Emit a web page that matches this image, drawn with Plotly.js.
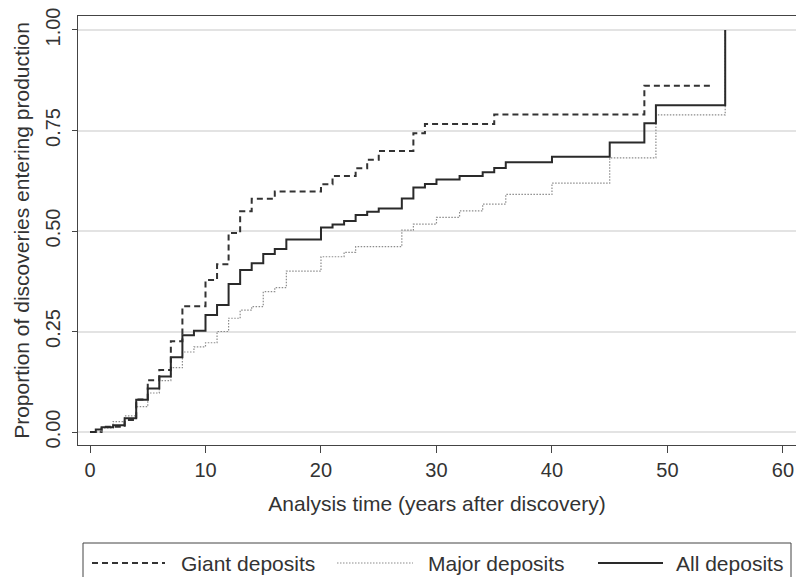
<!DOCTYPE html>
<html><head><meta charset="utf-8">
<script src="https://cdn.plot.ly/plotly-3.0.1.min.js"></script>
<style>html,body{margin:0;padding:0;background:#fff;}#chart{width:796px;height:577px;}</style>
</head><body><div id="chart"></div>
<script>
// ---- data ----
const seriesNames = ["Giant deposits", "Major deposits", "All deposits"];

const giantT = [0, 1, 3, 4, 5, 6, 7, 8, 10, 11, 12, 13, 14, 16, 20, 21, 23, 24, 25, 28, 29, 35, 48, 54];
const giantP = [0, 0.013, 0.03, 0.081, 0.129, 0.154, 0.226, 0.313, 0.378, 0.417, 0.495, 0.549, 0.58, 0.598, 0.616, 0.637, 0.656, 0.677, 0.699, 0.743, 0.766, 0.79, 0.861, 0.861];

const majorT = [0, 1, 2, 3, 4, 5, 6, 7, 8, 9, 10, 11, 12, 13, 14, 15, 16, 17, 20, 22, 23, 27, 28, 30, 32, 34, 36, 40, 45, 49, 55];
const majorP = [0, 0.01, 0.026, 0.04, 0.063, 0.097, 0.128, 0.16, 0.199, 0.212, 0.222, 0.25, 0.283, 0.303, 0.312, 0.349, 0.359, 0.40, 0.436, 0.447, 0.461, 0.502, 0.517, 0.534, 0.55, 0.567, 0.591, 0.619, 0.682, 0.789, 1.0];

const allT = [0, 0.5, 1, 2, 3, 4, 5, 6, 7, 8, 9, 10, 11, 12, 13, 14, 15, 16, 17, 20, 21, 22, 23, 24, 25, 27, 28, 29, 30, 32, 34, 35, 36, 40, 45, 48, 49, 55];
const allP = [0, 0.006, 0.012, 0.017, 0.034, 0.08, 0.108, 0.138, 0.186, 0.241, 0.252, 0.291, 0.316, 0.368, 0.403, 0.42, 0.443, 0.455, 0.479, 0.509, 0.516, 0.525, 0.54, 0.548, 0.556, 0.581, 0.608, 0.617, 0.628, 0.637, 0.646, 0.657, 0.671, 0.685, 0.72, 0.768, 0.813, 1.0];

const xTickVals = [0, 10, 20, 30, 40, 50, 60];
const yTickVals = [0, 0.25, 0.5, 0.75, 1];
const yTickText = ["0.00", "0.25", "0.50", "0.75", "1.00"];

const xTitle = "Analysis time (years after discovery)";
const yTitle = "Proportion of discoveries entering production";

// ---- styles ----
const FONT = "Liberation Sans, Arial, sans-serif";
const styles = [
  {color: "#333333", width: 2, dash: "6px,4px"},
  {color: "#8c8c8c", width: 1.2, dash: "1.5px,1.5px"},
  {color: "#2a2a2a", width: 2, dash: "solid"}
];
const seriesT = [giantT, majorT, allT];
const seriesP = [giantP, majorP, allP];

const traces = seriesNames.map((name, i) => ({
  type: "scatter", mode: "lines", name: name,
  x: seriesT[i], y: seriesP[i],
  line: {shape: "hv", color: styles[i].color, width: styles[i].width, dash: styles[i].dash},
  showlegend: false, hoverinfo: "skip"
}));

// plot area in pixels
const L = 78, T = 16, B = 445, W = 796;
const PW = W - L, PH = B - T;
const fx = px => (px - L) / PW;
const fy = py => (B - py) / PH;

// custom legend (Stata-style boxed legend with long samples)
const legY = 563;
const samples = [[92, 165], [337, 413], [598, 663]];
const textX = [179, 426, 674];
const shapes = [
  {type: "rect", xref: "paper", yref: "paper", x0: fx(83), x1: fx(791), y0: fy(600), y1: fy(543),
   line: {color: "#444444", width: 1}, fillcolor: "rgba(0,0,0,0)"}
];
const annotations = [];
seriesNames.forEach((name, i) => {
  shapes.push({type: "line", xref: "paper", yref: "paper",
    x0: fx(samples[i][0]), x1: fx(samples[i][1]), y0: fy(legY), y1: fy(legY),
    line: {color: styles[i].color, width: styles[i].width, dash: styles[i].dash}});
  annotations.push({xref: "paper", yref: "paper", x: fx(textX[i]), y: fy(legY),
    xanchor: "left", yanchor: "middle", showarrow: false, text: name,
    font: {family: FONT, size: 21, color: "#333333"}});
});

const layout = {
  width: 796, height: 577,
  margin: {l: L, r: 0, t: T, b: 577 - B, pad: 0},
  paper_bgcolor: "#ffffff", plot_bgcolor: "#ffffff",
  font: {family: FONT, color: "#333333"},
  showlegend: false,
  xaxis: {
    range: [-1.04, 61.13], tickvals: xTickVals, ticks: "outside", ticklen: 7, tickwidth: 1,
    tickcolor: "#444444", showline: true, linecolor: "#444444", linewidth: 1, mirror: true,
    showgrid: false, zeroline: false, automargin: false,
    tickfont: {family: FONT, size: 20, color: "#333333"},
    title: {text: xTitle, font: {family: FONT, size: 21, color: "#333333"}, standoff: 16}
  },
  yaxis: {
    range: [-0.0323, 1.0348], tickvals: yTickVals, ticktext: yTickText, ticks: "outside",
    ticklen: 5, tickwidth: 1, tickcolor: "#444444", tickangle: -90, ticklabelstandoff: 4,
    showline: true, linecolor: "#444444", linewidth: 1, mirror: false,
    showgrid: true, gridcolor: "#e3e3e3", gridwidth: 2, zeroline: false, automargin: false,
    tickfont: {family: FONT, size: 20, color: "#333333"},
    title: {text: yTitle, font: {family: FONT, size: 21, color: "#333333"}, standoff: 6}
  },
  shapes: shapes,
  annotations: annotations
};

Plotly.newPlot("chart", traces, layout, {displayModeBar: false, staticPlot: true});
</script>
</body></html>
